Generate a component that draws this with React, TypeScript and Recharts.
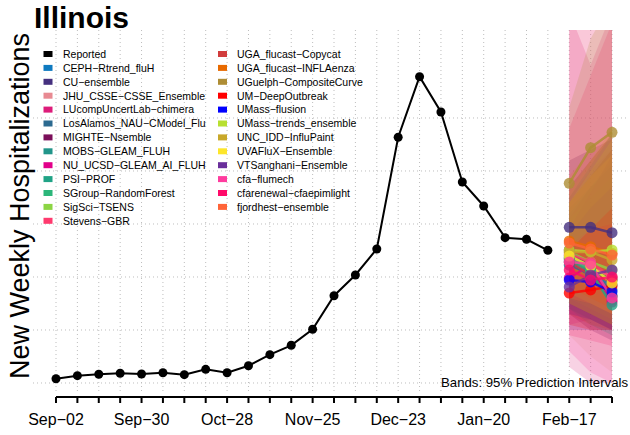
import React from "react";
import {
  ComposedChart,
  Line,
  Area,
  XAxis,
  YAxis,
  CartesianGrid,
  ReferenceLine,
} from "recharts";

const weekLabels = [
  "Sep−02", "Sep−09", "Sep−16", "Sep−23", "Sep−30",
  "Oct−07", "Oct−14", "Oct−21", "Oct−28",
  "Nov−04", "Nov−11", "Nov−18", "Nov−25",
  "Dec−02", "Dec−09", "Dec−16", "Dec−23", "Dec−30",
  "Jan−06", "Jan−13", "Jan−20", "Jan−27",
  "Feb−03", "Feb−10", "Feb−17", "Feb−24", "Mar−02",
];

const reported = [
  81, 138, 164, 183, 170, 194, 157, 258, 194, 326, 534, 711,
  1013, 1647, 2038, 2528, 4636, 5779, 5113, 3792, 3340, 2742, 2711, 2504,
];

const modelNames = [
  "CEPH−Rtrend_fluH",
  "CU−ensemble",
  "JHU_CSSE−CSSE_Ensemble",
  "LUcompUncertLab−chimera",
  "LosAlamos_NAU−CModel_Flu",
  "MIGHTE−Nsemble",
  "MOBS−GLEAM_FLUH",
  "NU_UCSD−GLEAM_AI_FLUH",
  "PSI−PROF",
  "SGroup−RandomForest",
  "SigSci−TSENS",
  "Stevens−GBR",
  "UGA_flucast−Copycat",
  "UGA_flucast−INFLAenza",
  "UGuelph−CompositeCurve",
  "UM−DeepOutbreak",
  "UMass−flusion",
  "UMass−trends_ensemble",
  "UNC_IDD−InfluPaint",
  "UVAFluX−Ensemble",
  "VTSanghani−Ensemble",
  "cfa−flumech",
  "cfarenewal−cfaepimlight",
  "fjordhest−ensemble",
];

const modelColors = [
  "#0F7AC0", "#45307F", "#E88A92", "#DD1C7A", "#2C6A90", "#7B0F5A",
  "#22958A", "#E2008A", "#20A386", "#2CB67A", "#8CD544", "#FF3A6E",
  "#D13C3C", "#E86A00", "#AE8D35", "#FF0000", "#0000FF", "#B8E031",
  "#C8A82A", "#FDE62B", "#6A2F9B", "#FF3C9E", "#FF0A6A", "#FF6438",
];

// forecast medians for Feb-17, Feb-24, Mar-02
const medians = [
  [2283, 2019, 1849],
  [2938, 2938, 2836],
  [2340, 2170, 2019],
  [2359, 2208, 1566],
  [2226, 2057, 1755],
  [2509, 2170, 1641],
  [2396, 2208, 1641],
  [1981, 2226, 1528],
  [2321, 2094, 1472],
  [2359, 2132, 1943],
  [2472, 2283, 2132],
  [2434, 2283, 1981],
  [2283, 2038, 1943],
  [2679, 2572, 2447],
  [3768, 4440, 4730],
  [1698, 1755, 1830],
  [1943, 1906, 1717],
  [2509, 2477, 2509],
  [2472, 2472, 2321],
  [2396, 2208, 1887],
  [1811, 2038, 2132],
  [2283, 2245, 1604],
  [2132, 1943, 2000],
  [2641, 2528, 2415],
];

const lower95 = [
  [1500, 1300, 1100],
  [2200, 2000, 1800],
  [900, 500, 200],
  [300, 0, 0],
  [1400, 1200, 1000],
  [1300, 1000, 800],
  [1500, 1300, 1100],
  [1100, 1200, 1000],
  [1400, 1100, 900],
  [1700, 1500, 1300],
  [1600, 1400, 1200],
  [1500, 1300, 1100],
  [1300, 1100, 1000],
  [1800, 1600, 1400],
  [2600, 2900, 3000],
  [1100, 1000, 1000],
  [1300, 1200, 1000],
  [1700, 1500, 1300],
  [1500, 1300, 1100],
  [1500, 1300, 1100],
  [1000, 1000, 1000],
  [600, 200, 0],
  [900, 800, 700],
  [1600, 1500, 1300],
];

const upper95 = [
  [3200, 3700, 4200],
  [3700, 4200, 4700],
  [6800, 7000, 7000],
  [7000, 6000, 7000],
  [3300, 3700, 4100],
  [4200, 4400, 4600],
  [3400, 3900, 4400],
  [3100, 3700, 4000],
  [3500, 4100, 4700],
  [3100, 3500, 3900],
  [3400, 3900, 4400],
  [3500, 4000, 4400],
  [3400, 3900, 4400],
  [3700, 4200, 4700],
  [5200, 6500, 7200],
  [2500, 2900, 3300],
  [2800, 3300, 3700],
  [3400, 4000, 4600],
  [3600, 4200, 4800],
  [3400, 3900, 4300],
  [2900, 3600, 4300],
  [7200, 7200, 7200],
  [4800, 5800, 6800],
  [3900, 4400, 4800],
];

// order in which the translucent bands are layered
const bandOrder = [21, 22, 3, 7, 11, 2, 0, 4, 6, 8, 9, 10, 16, 20, 1, 5, 17, 19, 18, 12, 13, 15, 23, 14];

const gridValues = [0, 1000, 2000, 3000, 4000, 5000];
const forecastStart = reported.length; // index of Feb-17

const data = weekLabels.map((label, i) => {
  const row: any = { week: i, label };
  if (i < reported.length) row.reported = reported[i];
  const h = i - forecastStart;
  if (h >= 0) {
    modelNames.forEach((_, j) => {
      row["m" + j] = medians[j][h];
      row["b" + j] = [lower95[j][h], upper95[j][h]];
    });
  }
  return row;
});

const FONT = "'Liberation Sans', Arial, Helvetica, sans-serif";

const XTick = (props: any) => {
  const { x, y, payload } = props;
  const i = payload.value;
  return (
    <g>
      <line x1={x} x2={x} y1={y + 5} y2={y + 11} stroke="#000" strokeWidth={2} />
      {i % 4 === 0 && (
        <text x={x} y={y + 32.5} textAnchor="middle" fontSize={16} fontFamily={FONT} fill="#000">
          {weekLabels[i]}
        </text>
      )}
    </g>
  );
};

const legendItems = [
  { name: "Reported", color: "#000000" },
  ...modelNames.map((n, j) => ({ name: n, color: modelColors[j] })),
];

export default function App() {
  const col1 = legendItems.slice(0, 13);
  const col2 = legendItems.slice(13);
  return (
    <div style={{ position: "absolute", left: 0, top: 0, width: 630, height: 435, background: "#fff" }}>
      <ComposedChart
        width={630}
        height={435}
        data={data}
        margin={{ top: 30, right: 3, left: 33, bottom: 0 }}
      >
        <CartesianGrid
          stroke="#BDBDBD"
          strokeDasharray="1 3"
          horizontalValues={gridValues}
          verticalValues={weekLabels.map((_, i) => i)}
        />
        <XAxis
          dataKey="week"
          type="number"
          domain={[-1.0755, 26.7]}
          ticks={weekLabels.map((_, i) => i)}
          interval={0}
          allowDataOverflow
          axisLine={false}
          tickLine={false}
          tickSize={0}
          tickMargin={0}
          height={43}
          tick={<XTick />}
        />
        <YAxis hide type="number" domain={[-170, 6660]} allowDataOverflow ticks={gridValues} />
        <ReferenceLine
          segment={[{ x: 0, y: -264 }, { x: 26, y: -264 }]}
          stroke="#000"
          strokeWidth={2}
          ifOverflow="visible"
        />
        {bandOrder.map((j) => (
          <Area
            key={"b" + j}
            dataKey={"b" + j}
            type="linear"
            stroke="none"
            fill={modelColors[j]}
            fillOpacity={0.2}
            isAnimationActive={false}
            connectNulls={false}
          />
        ))}
        {modelNames.map((n, j) => (
          <Line
            key={"m" + j}
            dataKey={"m" + j}
            type="linear"
            stroke={modelColors[j]}
            strokeWidth={2.5}
            strokeOpacity={0.8}
            dot={{ r: 5.5, fill: modelColors[j], fillOpacity: 0.8, stroke: "none" }}
            isAnimationActive={false}
          />
        ))}
        <Line
          dataKey="reported"
          type="linear"
          stroke="#000"
          strokeWidth={2}
          dot={{ r: 4.5, fill: "#000", stroke: "none" }}
          isAnimationActive={false}
        />
      </ComposedChart>
      <svg
        width={630}
        height={435}
        style={{ position: "absolute", left: 0, top: 0, pointerEvents: "none" }}
      >
        <text x={34} y={28} fontSize={30} fontWeight="bold" fontFamily={FONT} fill="#000">
          Illinois
        </text>
        <text
          transform="translate(29,206) rotate(-90)"
          textAnchor="middle"
          fontSize={27}
          fontFamily={FONT}
          fill="#000"
        >
          New Weekly Hospitalizations
        </text>
        {col1.map((it, k) => (
          <g key={"l1" + k}>
            <rect x={43.5} y={54 + k * 13.9 - 3} width={9} height={6} fill={it.color} />
            <text x={63} y={54 + k * 13.9 + 3.8} fontSize={10.5} fontFamily={FONT} fill="#000">
              {it.name}
            </text>
          </g>
        ))}
        {col2.map((it, k) => (
          <g key={"l2" + k}>
            <rect x={218} y={54 + k * 13.9 - 3} width={9} height={6} fill={it.color} />
            <text x={237} y={54 + k * 13.9 + 3.8} fontSize={10.5} fontFamily={FONT} fill="#000">
              {it.name}
            </text>
          </g>
        ))}
        <text x={628} y={386.5} textAnchor="end" fontSize={13.2} fontFamily={FONT} fill="#000">
          Bands: 95% Prediction Intervals
        </text>
      </svg>
    </div>
  );
}
